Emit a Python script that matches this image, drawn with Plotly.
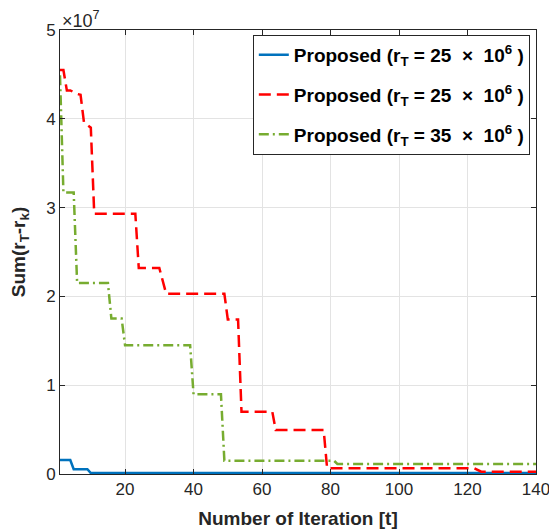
import plotly.graph_objects as go

# Data (iteration, value)
blue_x = [1, 4, 5, 9, 10, 140]
blue_y = [1.58e6, 1.58e6, 5.3e5, 5.3e5, 1.0e5, 1.0e5]

red_x = [1, 2, 3, 4, 6, 7, 8, 10, 11, 23, 24, 30, 32, 49, 50, 53, 54, 63, 64, 78, 79, 122, 124, 140]
red_y = [4.55e7, 4.55e7, 4.32e7, 4.32e7, 4.28e7, 4.27e7, 3.96e7, 3.90e7, 2.93e7, 2.93e7, 2.32e7,
         2.32e7, 2.03e7, 2.03e7, 1.74e7, 1.74e7, 0.70e7, 0.70e7, 0.495e7, 0.495e7, 0.064e7,
         0.064e7, 0.026e7, 0.026e7]

green_x = [1, 2, 5, 6, 15, 16, 19, 20, 39, 40, 48, 49, 81, 82, 140]
green_y = [4.49e7, 3.17e7, 3.17e7, 2.15e7, 2.15e7, 1.75e7, 1.75e7, 1.45e7, 1.45e7, 0.897e7,
           0.897e7, 0.15e7, 0.15e7, 0.113e7, 0.113e7]

names = ["Proposed (r<sub>T</sub> = 25 \u00a0×\u00a0 10<sup>6</sup> )",
         "Proposed (r<sub>T</sub> = 25 \u00a0×\u00a0 10<sup>6</sup> )",
         "Proposed (r<sub>T</sub> = 35 \u00a0×\u00a0 10<sup>6</sup> )"]

x_ticks = [20, 40, 60, 80, 100, 120, 140]
y_ticks = [0, 1e7, 2e7, 3e7, 4e7, 5e7]
y_ticktext = ["0", "1", "2", "3", "4", "5"]

FONT = "Liberation Sans, Arial, Helvetica"

fig = go.Figure()
fig.add_trace(go.Scatter(x=blue_x, y=blue_y, mode="lines", name="<b>" + names[0] + "</b>",
                         legendgroup="a", line=dict(color="#0072BD", width=2.5)))
fig.add_trace(go.Scatter(x=red_x, y=red_y, mode="lines", name="<b>" + names[1] + "</b>",
                         legendgroup="b", line=dict(color="#FF0000", width=2.5, dash="12px,6px")))
fig.add_trace(go.Scatter(x=green_x, y=green_y, mode="lines", name="<b>" + names[2] + "</b>",
                         legendgroup="c",
                         line=dict(color="#77AC30", width=2.5, dash="10px,4px,2px,4px")))

axis_common = dict(showline=True, linecolor="#262626", linewidth=1, mirror="allticks",
                   ticks="inside", ticklen=5, tickcolor="#262626",
                   showgrid=True, gridcolor="#E3E3E3", gridwidth=1, zeroline=False,
                   ticklabeloverflow="allow", automargin=False,
                   tickfont=dict(family=FONT, size=17, color="#262626"))

fig.update_xaxes(range=[1, 140], tickvals=x_ticks,
                 title=dict(text="<b>Number of Iteration [t]</b>",
                            font=dict(family=FONT, size=19, color="#262626")),
                 **axis_common)
fig.update_yaxes(range=[0, 5e7], tickvals=y_ticks, ticktext=y_ticktext,
                 title=dict(text="<b>Sum(r<sub>T</sub>-r<sub>k</sub>)</b>",
                            font=dict(family=FONT, size=19, color="#262626")),
                 **axis_common)

fig.add_annotation(xref="paper", yref="paper", x=0, y=1, xanchor="left", yanchor="bottom",
                   text="×10<sup>7</sup>", showarrow=False, yshift=-3,
                   font=dict(family=FONT, size=18, color="#262626"))

fig.update_layout(
    width=549, height=529,
    margin=dict(l=60, r=13, t=30, b=55),
    paper_bgcolor="white", plot_bgcolor="white",
    showlegend=True,
    legend=dict(x=0.987, y=0.989, xanchor="right", yanchor="top",
                bgcolor="white", bordercolor="#262626", borderwidth=1,
                font=dict(family=FONT, size=19, color="black"),
                traceorder="grouped", tracegroupgap=12),
    font=dict(family=FONT),
)

# Remove the default page margin so the 549x529 figure fills the window exactly.
fig.write_html("out.html",
               config={"displayModeBar": False},
               post_script="document.body.style.margin='0';document.body.style.overflow='hidden';")
